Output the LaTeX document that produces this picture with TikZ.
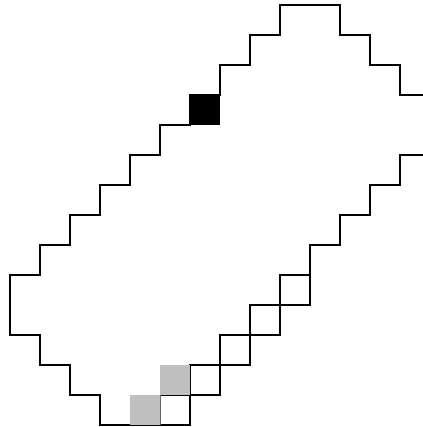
\documentclass[tikz,border=0pt]{standalone}
\usepackage{tikz}

\begin{document}
\begin{tikzpicture}[x=0.5cm,y=0.5cm]
\useasboundingbox (-0.333,-0.067) rectangle (13.767,14.167);
\draw[black, line width=0.5pt] (13.9,11) -- (13,11) -- (13,12) -- (12,12) -- (12,13) -- (11,13) -- (11,14) -- (9,14) -- (9,13) -- (8,13) -- (8,12) -- (7,12) -- (7,11) -- (6,11) -- (6,10) -- (5,10) -- (5,9) -- (4,9) -- (4,8) -- (3,8) -- (3,7) -- (2,7) -- (2,6) -- (1,6) -- (1,5) -- (0,5) -- (0,3) -- (1,3) -- (1,2) -- (2,2) -- (2,1) -- (3,1) -- (3,0) -- (6,0) -- (6,2) -- (8,2) -- (8,4) -- (10,4) -- (10,6) -- (11,6) -- (11,7) -- (12,7) -- (12,8) -- (13,8) -- (13,9) -- (13.9,9);
\draw[black, line width=0.5pt] (5,1) -- (7,1) -- (7,3) -- (9,3) -- (9,5) -- (10,5);
\fill[black] (6,10) rectangle (7,11);
\fill[black!25] (4,0) rectangle (5,1);
\fill[black!25] (5,1) rectangle (6,2);
\draw[black!60, line width=0.4pt] (5,0) -- (5,1);
\end{tikzpicture}
\end{document}
